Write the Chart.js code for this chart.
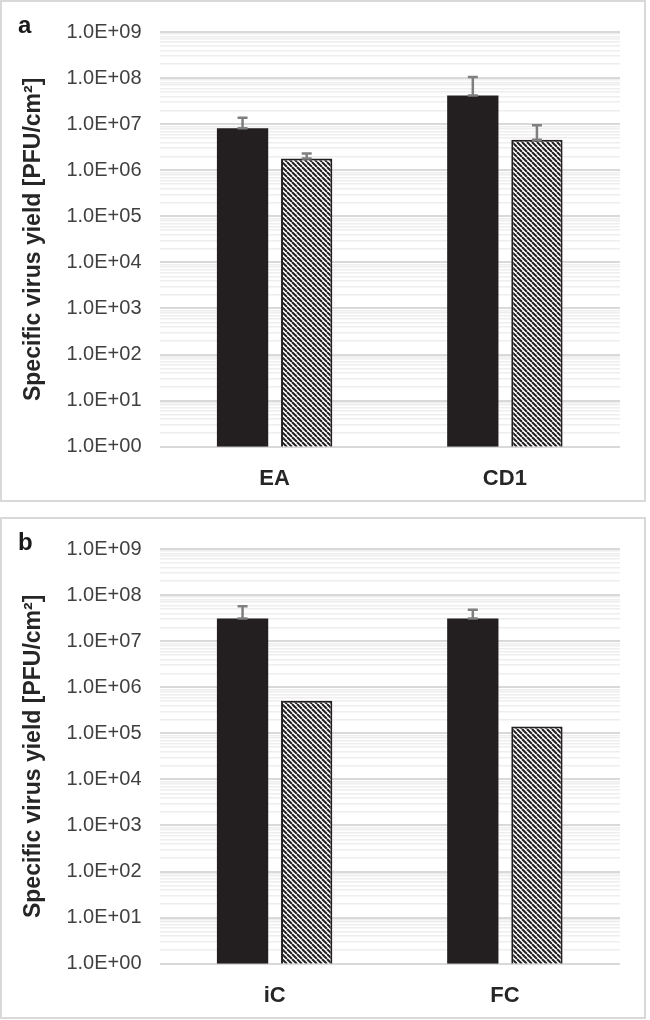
<!DOCTYPE html>
<html>
<head>
<meta charset="utf-8">
<script src="https://cdn.jsdelivr.net/npm/chart.js@4.4.1/dist/chart.umd.min.js"></script>
<style>
  body { margin: 0; background: #fff; }
  .panel { position: absolute; left: 0; width: 642px; height: 498px; border: 2px solid #d9d9d9; background: #fff; }
  #panelA { top: 0; }
  #panelB { top: 517px; }
  canvas { display: block; }
</style>
</head>
<body>
<div class="panel" id="panelA"><canvas id="chartA" width="642" height="498"></canvas></div>
<div class="panel" id="panelB"><canvas id="chartB" width="642" height="498"></canvas></div>
<script>
// ---- data ----
const categoriesA = ['EA', 'CD1'];
const solidA = [8.1e6, 4.2e7];
const solidErrA = [5.6e6, 6.3e7];
const hatchA = [1.8e6, 4.6e6];
const hatchErrA = [0.5e6, 4.9e6];

const categoriesB = ['iC', 'FC'];
const solidB = [3.1e7, 3.1e7];
const solidErrB = [2.6e7, 1.7e7];
const hatchB = [5.1e5, 1.4e5];
const hatchErrB = [0, 0];

const yDecades = [1e0, 1e1, 1e2, 1e3, 1e4, 1e5, 1e6, 1e7, 1e8, 1e9];
const yTickLabels = ['1.0E+00', '1.0E+01', '1.0E+02', '1.0E+03', '1.0E+04',
                     '1.0E+05', '1.0E+06', '1.0E+07', '1.0E+08', '1.0E+09'];
const minorSteps = [2, 3, 4, 5, 6, 7, 8, 9];
const yTitle = 'Specific virus yield [PFU/cm\u00B2]';

// excel-like minor grid at 2..9 of every decade
const yTickValues = [];
yDecades.forEach((d, i) => {
    yTickValues.push(d);
    if (i < yDecades.length - 1) minorSteps.forEach(m => yTickValues.push(m * d));
});

const FONT = "'Liberation Sans', Arial, sans-serif";
const INK = '#231f20';

function hatchPattern() {
    const s = 5;
    const c = document.createElement('canvas');
    c.width = s; c.height = s;
    const pc = c.getContext('2d');
    pc.fillStyle = '#fff';
    pc.fillRect(0, 0, s, s);
    pc.strokeStyle = INK;
    pc.lineWidth = 2;
    for (const o of [-s, 0, s]) {
        pc.beginPath();
        pc.moveTo(o, 0);
        pc.lineTo(o + s, s);
        pc.stroke();
    }
    return pc.createPattern(c, 'repeat');
}

// upward error bars ("I" shape) drawn from the bar top
const errorBars = {
    id: 'errorBars',
    afterDatasetsDraw(chart) {
        const ctx = chart.ctx;
        const y = chart.scales.y;
        ctx.save();
        ctx.strokeStyle = '#7f7f7f';
        ctx.lineWidth = 2.5;
        chart.data.datasets.forEach((ds, i) => {
            chart.getDatasetMeta(i).data.forEach((bar, j) => {
                const err = ds.errors[j];
                if (!err) return;
                const top = y.getPixelForValue(ds.data[j] + err);
                const base = bar.y;
                ctx.beginPath();
                ctx.moveTo(bar.x, base); ctx.lineTo(bar.x, top);
                ctx.moveTo(bar.x - 5, top); ctx.lineTo(bar.x + 5, top);
                ctx.moveTo(bar.x - 5, base); ctx.lineTo(bar.x + 5, base);
                ctx.stroke();
            });
        });
        ctx.restore();
    }
};

const panelLetter = {
    id: 'panelLetter',
    afterDraw(chart, args, opts) {
        const ctx = chart.ctx;
        ctx.save();
        ctx.font = 'bold 24px ' + FONT;
        ctx.fillStyle = '#1a1a1a';
        ctx.textBaseline = 'alphabetic';
        ctx.fillText(opts.text, 16, 31);
        ctx.restore();
    }
};

function makeChart(id, letter, cats, solid, solidErr, hatch, hatchErr) {
    return new Chart(document.getElementById(id), {
        type: 'bar',
        data: {
            labels: cats,
            datasets: [
                { data: solid, errors: solidErr, backgroundColor: INK, borderWidth: 0 },
                { data: hatch, errors: hatchErr, backgroundColor: hatchPattern(), borderColor: INK, borderWidth: 2 }
            ]
        },
        options: {
            responsive: false,
            animation: false,
            devicePixelRatio: 1,
            categoryPercentage: 0.557,
            barPercentage: 0.8,
            layout: { padding: { top: 24, right: 24, left: 0, bottom: 0 } },
            plugins: {
                legend: { display: false },
                tooltip: { enabled: false },
                panelLetter: { text: letter }
            },
            scales: {
                x: {
                    grid: { display: false },
                    border: { display: false },
                    ticks: { color: '#262626', padding: 11, font: { family: FONT, size: 22, weight: 'bold' } },
                    afterFit(s) { s.height = 53.3; }
                },
                y: {
                    type: 'logarithmic',
                    min: 1,
                    max: 1e9,
                    border: { display: false },
                    grid: {
                        drawTicks: false,
                        color: c => yDecades.includes(c.tick.value) ? '#d9d9d9' : '#eeeeee',
                        lineWidth: c => yDecades.includes(c.tick.value) ? 2 : 1.5
                    },
                    afterBuildTicks(s) { s.ticks = yTickValues.map(v => ({ value: v })); },
                    ticks: {
                        autoSkip: false,
                        padding: 18,
                        color: '#404040',
                        font: { family: FONT, size: 20 },
                        callback: v => {
                            const i = yDecades.indexOf(v);
                            return i >= 0 ? yTickLabels[i] : '';
                        }
                    },
                    title: {
                        display: true,
                        text: yTitle,
                        color: '#262626',
                        padding: { top: 18, bottom: 0 },
                        font: { family: FONT, size: 23, weight: 'bold' }
                    },
                    afterFit(s) { s.width = 157.5; }
                }
            }
        },
        plugins: [errorBars, panelLetter]
    });
}

makeChart('chartA', 'a', categoriesA, solidA, solidErrA, hatchA, hatchErrA);
makeChart('chartB', 'b', categoriesB, solidB, solidErrB, hatchB, hatchErrB);
</script>
</body>
</html>
